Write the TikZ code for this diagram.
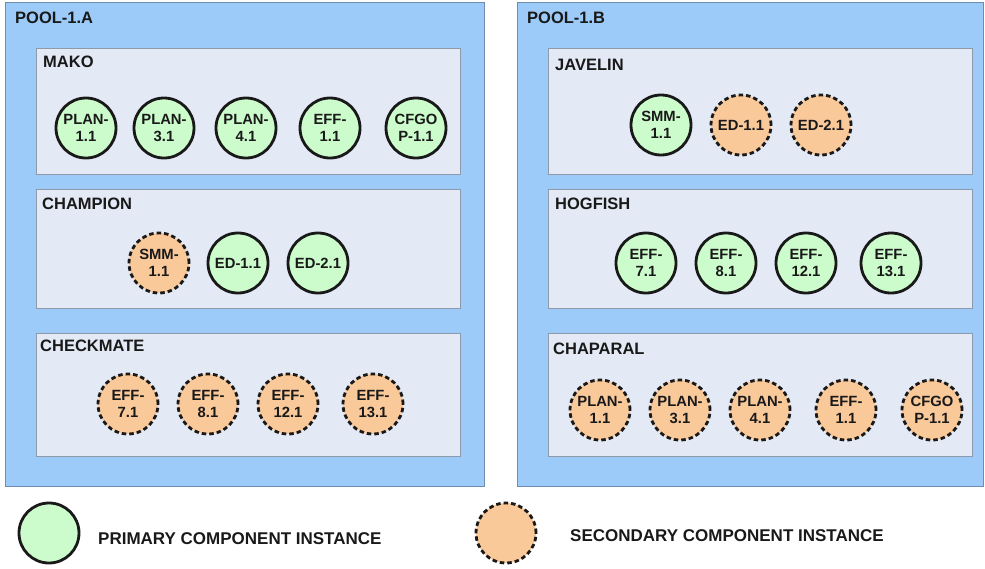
\documentclass[tikz,border=0pt]{standalone}
\usepackage{fontspec}
\setmainfont{Liberation Sans}
\definecolor{poolfill}{HTML}{9CCBF9}
\definecolor{pooldraw}{HTML}{6F8DAE}
\definecolor{boxfill}{HTML}{E4EAF5}
\definecolor{boxdraw}{HTML}{8E9AAA}
\definecolor{primfill}{HTML}{CCFCCC}
\definecolor{secfill}{HTML}{FAC99A}
\tikzset{
  pool/.style={fill=poolfill, draw=pooldraw, line width=1pt},
  group/.style={fill=boxfill, draw=boxdraw, line width=1pt},
  ttl/.style={anchor=base west, inner sep=0pt, font=\fontsize{16.5}{18}\selectfont\bfseries, text=black!90},
  inst/.style={circle, minimum size=60pt, inner sep=0pt, line width=2.8pt, draw=black!90, align=center,
     font=\fontsize{14.8}{16.5}\selectfont\bfseries, text=black!90},
  prim/.style={inst, fill=primfill},
  sec/.style={inst, fill=secfill, dash pattern=on 4.5pt off 3pt},
  legtext/.style={anchor=base west, inner sep=0pt, font=\fontsize{17}{19}\selectfont\bfseries, text=black!90},
}
\begin{document}
\begin{tikzpicture}[x=1pt, y=-1pt]
\useasboundingbox (0,0) rectangle (985,568);
% pools
\draw[pool] (5,2) rectangle (484,486);
\draw[pool] (517,2) rectangle (983,486);
\node[ttl] (tA) at (15,23) {POOL-1.A};
\node[ttl] (tB) at (527,23) {POOL-1.B};
% groups pool A
\draw[group] (36,48) rectangle (460,174);
\draw[group] (36,189) rectangle (460,308);
\draw[group] (36,333) rectangle (460,456);
\node[ttl] (gMako) at (43,67) {MAKO};
\node[ttl] (gChampion) at (42,209) {CHAMPION};
\node[ttl] (gCheckmate) at (40,351) {CHECKMATE};
% groups pool B
\draw[group] (548,48) rectangle (972,174);
\draw[group] (548,189) rectangle (972,308);
\draw[group] (548,333) rectangle (972,456);
\node[ttl] (gJavelin) at (555,70) {JAVELIN};
\node[ttl] (gHogfish) at (555,209) {HOGFISH};
\node[ttl] (gChaparal) at (553,354) {CHAPARAL};
% MAKO
\node[prim] (m1) at (86,128) {PLAN-\\1.1};
\node[prim] (m2) at (164,128) {PLAN-\\3.1};
\node[prim] (m3) at (246,128) {PLAN-\\4.1};
\node[prim] (m4) at (330,128) {EFF-\\1.1};
\node[prim] (m5) at (416,128) {CFGO\\P-1.1};
% CHAMPION
\node[sec] (c1) at (159,263) {SMM-\\1.1};
\node[prim] (c2) at (238,263) {ED-1.1};
\node[prim] (c3) at (318,263) {ED-2.1};
% CHECKMATE
\node[sec] (k1) at (128,404) {EFF-\\7.1};
\node[sec] (k2) at (208,404) {EFF-\\8.1};
\node[sec] (k3) at (288,404) {EFF-\\12.1};
\node[sec] (k4) at (373,404) {EFF-\\13.1};
% JAVELIN
\node[prim] (j1) at (661,125) {SMM-\\1.1};
\node[sec] (j2) at (741,125) {ED-1.1};
\node[sec] (j3) at (821,125) {ED-2.1};
% HOGFISH
\node[prim] (h1) at (646,263) {EFF-\\7.1};
\node[prim] (h2) at (726,263) {EFF-\\8.1};
\node[prim] (h3) at (806,263) {EFF-\\12.1};
\node[prim] (h4) at (891,263) {EFF-\\13.1};
% CHAPARAL
\node[sec] (p1) at (600,410) {PLAN-\\1.1};
\node[sec] (p2) at (680,410) {PLAN-\\3.1};
\node[sec] (p3) at (760,410) {PLAN-\\4.1};
\node[sec] (p4) at (846,410) {EFF-\\1.1};
\node[sec] (p5) at (932,410) {CFGO\\P-1.1};
% legend
\node[prim] (lp) at (49,533) {};
\node[legtext] (lpt) at (98,544) {PRIMARY COMPONENT INSTANCE};
\node[sec] (ls) at (506,533) {};
\node[legtext] (lst) at (570,541) {SECONDARY COMPONENT INSTANCE};
\end{tikzpicture}
\end{document}
